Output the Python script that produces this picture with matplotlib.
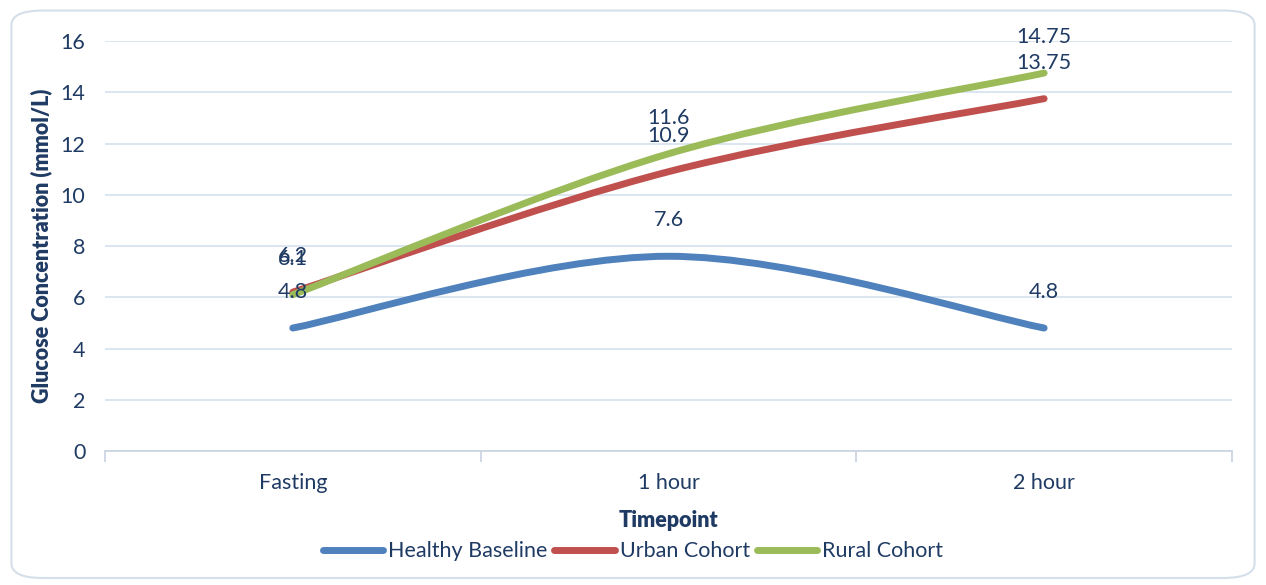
import matplotlib.pyplot as plt
import numpy as np
from matplotlib.path import Path
from matplotlib.patches import PathPatch, FancyBboxPatch
from matplotlib.lines import Line2D

TIMEPOINTS = ["Fasting", "1 hour", "2 hour"]
HEALTHY = [4.8, 7.6, 4.8]
URBAN = [6.2, 10.9, 13.75]
RURAL = [6.1, 11.6, 14.75]
SERIES = ["Healthy Baseline", "Urban Cohort", "Rural Cohort"]
COLORS = ["#4f81bd", "#c0504d", "#9bbb59"]

TEXT_C = "#1f3b64"
GRID_C = "#d6e2ef"
FS = 15.5

plt.rcParams['font.family'] = ['Lato', 'DejaVu Sans']


# ----------------------------------------------------------------------------------------------------
def smooth_path(xs, ys):
    # Catmull-Rom style cubic bezier, similar to Excel's smoothed lines
    pts = np.column_stack([xs, ys]).astype(float)
    ext = np.vstack([pts[0], pts, pts[-1]])
    verts = [pts[0]]
    codes = [Path.MOVETO]
    for i in range(len(pts) - 1):
        p0, p1, p2, p3 = ext[i], ext[i + 1], ext[i + 2], ext[i + 3]
        c1 = p1 + (p2 - p0) / 6
        c2 = p2 - (p3 - p1) / 6
        verts += [c1, c2, p2]
        codes += [Path.CURVE4] * 3
    return Path(verts, codes)


# ----------------------------------------------------------------------------------------------------
def plot_glucose():

    fig = plt.figure(figsize = (12.66, 5.85), dpi = 100)
    fig.patches.append(FancyBboxPatch((0.009, 0.012), 0.982, 0.97,
                                      boxstyle = "round,pad=0,rounding_size=0.025",
                                      transform = fig.transFigure, fc = 'white',
                                      ec = "#d5dfea", lw = 1.5, zorder = -5))
    ax = fig.add_axes([0.0829, 0.229, 0.8902, 0.7009])
    ax.set_facecolor('none')

    x = np.arange(len(TIMEPOINTS))
    for vals, col in zip([HEALTHY, URBAN, RURAL], COLORS):
        ax.add_patch(PathPatch(smooth_path(x, vals), fc = 'none', ec = col, lw = 5,
                               capstyle = 'round', joinstyle = 'round', zorder = 3))
    for vals in [HEALTHY, URBAN, RURAL]:
        for xi, v in zip(x, vals):
            ax.annotate(f"{v:g}", (xi, v), xytext = (0, 26), textcoords = 'offset points',
                        ha = 'center', va = 'center', fontsize = FS, color = TEXT_C, zorder = 4)

    ax.set_xlim(-0.5, 2.5)
    ax.set_ylim(0, 16)
    ax.set_yticks(np.arange(0, 17, 2))
    ax.set_xticks(x)
    ax.set_xticklabels(TIMEPOINTS)
    ax.set_xticks([-0.5, 0.5, 1.5, 2.5], minor = True)
    ax.yaxis.grid(True, color = GRID_C, lw = 1.2)
    ax.set_axisbelow(True)
    for s in ['top', 'right', 'left']:
        ax.spines[s].set_visible(False)
    ax.spines['bottom'].set_color("#c8d3df")
    ax.spines['bottom'].set_linewidth(1.2)
    ax.tick_params(axis = 'y', length = 0, pad = 14, labelsize = FS, labelcolor = TEXT_C)
    ax.tick_params(axis = 'x', which = 'major', length = 0, pad = 16, labelsize = FS, labelcolor = TEXT_C)
    ax.tick_params(axis = 'x', which = 'minor', length = 8, width = 1.2, color = "#c8d3df")

    ax.set_xlabel("Timepoint", fontsize = FS, fontweight = 'heavy', color = TEXT_C, labelpad = 12)
    ax.set_ylabel("Glucose Concentration (mmol/L)", fontsize = FS, fontweight = 'heavy',
                  color = TEXT_C, labelpad = 6)

    handles = [Line2D([], [], color = c, lw = 5, solid_capstyle = 'round') for c in COLORS]
    fig.legend(handles, SERIES, loc = 'center', bbox_to_anchor = (0.5, 0.058), ncol = 3,
               frameon = False, fontsize = FS, labelcolor = TEXT_C, handlelength = 2.8,
               handletextpad = 0.25, columnspacing = 0.3)

    fig.savefig("out.png", dpi = 100)


# ----------------------------------------------------------------------------------------------------
if __name__ == '__main__':

    plot_glucose()
